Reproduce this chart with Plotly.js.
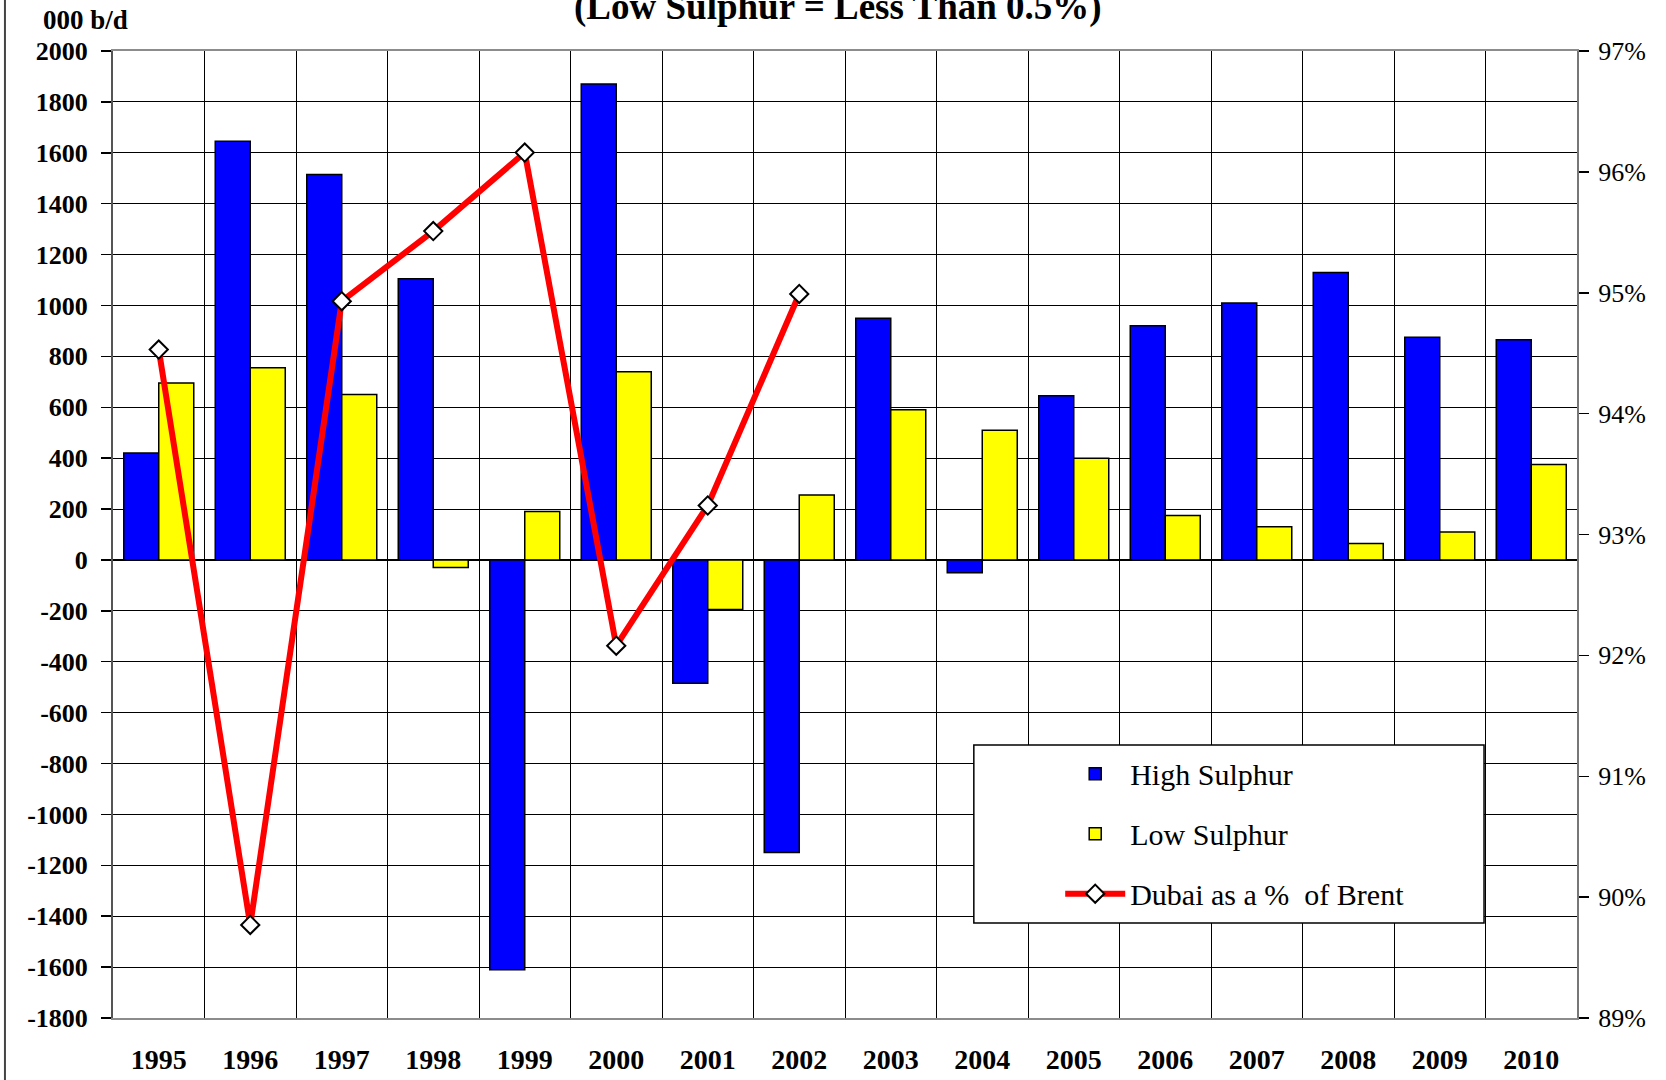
<!DOCTYPE html>
<html>
<head>
<meta charset="utf-8">
<script src="https://cdn.plot.ly/plotly-3.0.1.min.js"></script>
<style>
  html, body { margin: 0; padding: 0; background: #ffffff; }
  #chart { width: 1666px; height: 1080px; }
</style>
</head>
<body>
<div id="chart"></div>
<script>
// ---- Data ----
const years = ["1995","1996","1997","1998","1999","2000","2001","2002","2003","2004","2005","2006","2007","2008","2009","2010"];
const highSulphur = [420, 1645, 1515, 1105, -1610, 1870, -485, -1150, 950, -50, 645, 920, 1010, 1130, 875, 865];
const lowSulphur  = [695, 755, 650, -30, 190, 740, -195, 255, 590, 510, 400, 175, 130, 65, 110, 375];
const dubaiPctBrent = [94.53, 89.77, 94.93, 95.51, 96.16, 92.08, 93.24, 94.99, null, null, null, null, null, null, null, null];

const leftTickVals = [-1800, -1600, -1400, -1200, -1000, -800, -600, -400, -200, 0, 200, 400, 600, 800, 1000, 1200, 1400, 1600, 1800, 2000];
const leftTickText = ["-1800", "-1600", "-1400", "-1200", "-1000", "-800", "-600", "-400", "-200", "0", "200", "400", "600", "800", "1000", "1200", "1400", "1600", "1800", "2000"];
const rightTickVals = [89, 90, 91, 92, 93, 94, 95, 96, 97];
const rightTickText = ["89%", "90%", "91%", "92%", "93%", "94%", "95%", "96%", "97%"];

const titleText = "(Low Sulphur = Less Than 0.5%)";
const unitText = "000 b/d";

const SERIF = '"Liberation Serif", "Times New Roman", Times, serif';

const traces = [
  {
    type: 'bar', name: 'High Sulphur', x: years, y: highSulphur,
    marker: { color: '#0000FF', line: { color: '#000000', width: 1.5 } },
    legendgroup: 'g1'
  },
  {
    type: 'bar', name: 'Low Sulphur', x: years, y: lowSulphur,
    marker: { color: '#FFFF00', line: { color: '#000000', width: 1.5 } },
    legendgroup: 'g2'
  },
  {
    type: 'scatter', mode: 'lines+markers', name: 'Dubai as a %  of Brent',
    x: years, y: dubaiPctBrent, yaxis: 'y2', connectgaps: false,
    line: { color: '#FF0000', width: 6 },
    marker: { symbol: 'diamond', size: 14, color: '#FFFFFF', line: { color: '#000000', width: 2 } },
    legendgroup: 'g3'
  }
];

const layout = {
  width: 1666, height: 1080,
  paper_bgcolor: '#FFFFFF', plot_bgcolor: '#FFFFFF',
  margin: { l: 113, r: 89, t: 51, b: 62 },
  font: { family: SERIF, color: '#000000' },
  barmode: 'group', bargap: 0.235, bargroupgap: 0,
  showlegend: true,
  legend: {
    x: 0.647, y: 0.2795, xanchor: 'left', yanchor: 'top',
    bgcolor: 'rgba(0,0,0,0)', borderwidth: 0,
    font: { family: SERIF, size: 30, color: '#000000' },
    itemwidth: 60, traceorder: 'grouped', tracegroupgap: 18
  },
  xaxis: {
    type: 'category', range: [-0.5, 15.5], tickson: 'boundaries',
    showgrid: true, gridcolor: '#000000', gridwidth: 1,
    showline: true, linecolor: '#8c8c8c', linewidth: 2, mirror: true,
    ticks: '', ticklabelstandoff: 15,
    tickfont: { family: SERIF, size: 28, color: '#000000', weight: 'bold' },
    fixedrange: true
  },
  yaxis: {
    range: [-1800, 2000],
    tickmode: 'array', tickvals: leftTickVals, ticktext: leftTickText,
    showgrid: true, gridcolor: '#000000', gridwidth: 1,
    zeroline: true, zerolinecolor: '#000000', zerolinewidth: 1.5,
    showline: true, linecolor: '#555555', linewidth: 2,
    ticks: 'outside', ticklen: 10, tickcolor: '#000000', tickwidth: 1.5,
    ticklabelstandoff: 8,
    tickfont: { family: SERIF, size: 26, color: '#000000', weight: 'bold' },
    fixedrange: true
  },
  yaxis2: {
    overlaying: 'y', side: 'right', range: [89, 97],
    tickmode: 'array', tickvals: rightTickVals, ticktext: rightTickText,
    showgrid: false, zeroline: false,
    showline: true, linecolor: '#777777', linewidth: 2,
    ticks: 'outside', ticklen: 10, tickcolor: '#000000', tickwidth: 1.5,
    ticklabelstandoff: 4,
    tickfont: { family: SERIF, size: 26, color: '#000000' },
    fixedrange: true
  },
  shapes: [
    { type: 'rect', xref: 'paper', yref: 'paper', x0: 0.588, x1: 0.9365, y0: 0.0982, y1: 0.2823,
      fillcolor: '#FFFFFF', line: { color: '#000000', width: 1.5 }, layer: 'above' },
    { type: 'line', xref: 'paper', yref: 'paper', x0: -0.0738, x1: -0.0738, y0: -0.08, y1: 1.07,
      line: { color: '#444444', width: 2 } }
  ],
  annotations: [
    { text: titleText, xref: 'paper', yref: 'paper', x: 0.495, y: 1.0455,
      xanchor: 'center', yanchor: 'middle', showarrow: false,
      font: { family: SERIF, size: 37, color: '#000000', weight: 'bold' } },
    { text: unitText, xref: 'paper', yref: 'paper', x: -0.0188, y: 1.032,
      xanchor: 'center', yanchor: 'middle', showarrow: false,
      font: { family: SERIF, size: 27, color: '#000000', weight: 'bold' } }
  ]
};

Plotly.newPlot('chart', traces, layout, { displayModeBar: false, staticPlot: true });
</script>
</body>
</html>
